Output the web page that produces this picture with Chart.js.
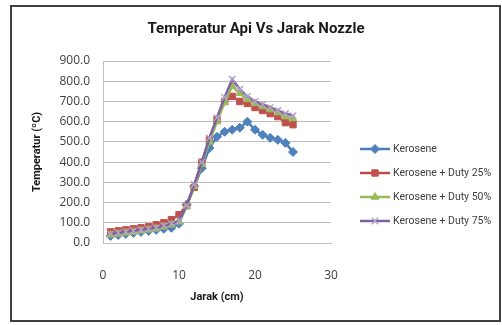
<!DOCTYPE html>
<html>
<head>
<meta charset="utf-8">
<script src="https://cdn.jsdelivr.net/npm/chart.js@4.4.0/dist/chart.umd.min.js"></script>
<style>
  html, body { margin: 0; padding: 0; background: #fff; }
  #wrap { position: relative; width: 502px; height: 325px; }
  #chart { position: absolute; left: 0; top: 0; }
  #frame { position: absolute; left: 10px; top: 5px; width: 487px; height: 313px; border: 2px solid #404040; pointer-events: none; }
</style>
</head>
<body>
<div id="wrap">
  <canvas id="chart" width="502" height="325"></canvas>
  <div id="frame"></div>
</div>
<script>
    // Jarak (cm) on x, temperature (°C) on y
    var jarak = [1, 2, 3, 4, 5, 6, 7, 8, 9, 10, 11, 12, 13, 14, 15, 16, 17, 18, 19, 20, 21, 22, 23, 24, 25];
    var kerosene = [35, 40, 45, 50, 55, 60, 65, 70, 75, 95, 190, 280, 370, 470, 525, 550, 560, 570, 600, 560, 535, 520, 510, 495, 450];
    var duty25 = [55, 60, 65, 70, 75, 80, 90, 100, 115, 140, 185, 275, 400, 510, 610, 700, 725, 700, 690, 670, 655, 640, 625, 595, 585];
    var duty50 = [40, 45, 50, 55, 60, 65, 70, 80, 90, 105, 180, 280, 390, 500, 600, 695, 775, 740, 710, 690, 675, 660, 645, 625, 615];
    var duty75 = [45, 50, 55, 60, 65, 70, 75, 85, 95, 110, 185, 290, 400, 520, 620, 720, 810, 760, 725, 700, 685, 670, 655, 640, 630];
    var seriesNames = ['Kerosene', 'Kerosene + Duty 25%', 'Kerosene + Duty 50%', 'Kerosene + Duty 75%'];
    var yTickLabels = ['0.0', '100.0', '200.0', '300.0', '400.0', '500.0', '600.0', '700.0', '800.0', '900.0'];
    var xTickLabels = ['0', '10', '20', '30'];

    var LABEL_FONT = "Roboto, 'Liberation Sans', sans-serif";
    Chart.defaults.font.family = "'Open Sans', 'Liberation Sans', sans-serif";

    function toPoints(values) {
        return values.map(function (v, i) { return {x: jarak[i], y: v}; });
    }

    function series(idx, values, line, marker, style, radius, order) {
        return {
            label: seriesNames[idx],
            data: toPoints(values),
            borderColor: line,
            backgroundColor: marker,
            pointBackgroundColor: marker,
            pointBorderColor: marker,
            pointBorderWidth: style === 'crossRot' ? 1.5 : 1,
            pointStyle: style,
            pointRadius: radius,
            borderWidth: 2.5,
            tension: 0,
            order: order
        };
    }

    // legend drawn beside the plot, Excel style (line + marker)
    var sideLegend = {
        id: 'sideLegend',
        afterDraw: function (chart) {
            var ctx = chart.ctx;
            var x0 = chart.chartArea.right + 29;
            ctx.save();
            chart.data.datasets.forEach(function (ds, i) {
                var y = 149 + i * 24;
                ctx.strokeStyle = ds.borderColor;
                ctx.lineWidth = ds.borderWidth;
                ctx.beginPath();
                ctx.moveTo(x0, y);
                ctx.lineTo(x0 + 30, y);
                ctx.stroke();
                ctx.fillStyle = ds.pointBackgroundColor;
                ctx.strokeStyle = ds.pointBorderColor;
                ctx.lineWidth = ds.pointBorderWidth;
                if (Chart.helpers && Chart.helpers.drawPoint) {
                    Chart.helpers.drawPoint(ctx, {
                        pointStyle: ds.pointStyle, radius: ds.pointRadius,
                        borderWidth: ds.pointBorderWidth, rotation: 0
                    }, x0 + 15, y);
                }
                ctx.fillStyle = '#404040';
                ctx.font = '10.5px ' + LABEL_FONT;
                ctx.textAlign = 'left';
                ctx.textBaseline = 'middle';
                ctx.fillText(ds.label, x0 + 33, y);
            });
            ctx.restore();
        }
    };

    new Chart(document.getElementById('chart'), {
        type: 'line',
        data: {
            datasets: [
                series(0, kerosene, '#4a7ebb', '#4f81bd', 'rectRot', 4.5, 4),
                series(1, duty25, '#be4b48', '#c0504d', 'rect', 4.5, 3),
                series(2, duty50, '#98b954', '#9bbb59', 'triangle', 4.5, 2),
                series(3, duty75, '#7d60a0', '#b3a2c7', 'crossRot', 4.5, 1)
            ]
        },
        options: {
            responsive: false,
            animation: false,
            devicePixelRatio: 1,
            layout: {padding: {left: 10, right: 0, top: 0, bottom: 0}},
            plugins: {
                legend: {display: false},
                tooltip: {enabled: false},
                title: {
                    display: true,
                    text: 'Temperatur Api Vs Jarak Nozzle',
                    color: '#1a1a1a',
                    font: {family: LABEL_FONT, size: 15, weight: 'bold'},
                    padding: {top: 20.5, bottom: 22.5}
                }
            },
            scales: {
                x: {
                    type: 'linear',
                    min: 0,
                    max: 30,
                    afterFit: function (s) { s.height = 82; },
                    grid: {display: false},
                    border: {display: true, color: '#bfbfbf'},
                    ticks: {
                        stepSize: 10,
                        padding: 17.8,
                        color: '#404040',
                        font: {size: 12},
                        callback: function (v, i) { return xTickLabels[i]; }
                    },
                    title: {
                        display: true,
                        text: 'Jarak (cm)',
                        color: '#1a1a1a',
                        font: {family: LABEL_FONT, size: 11, weight: 'bold'},
                        padding: {top: 0, bottom: 20.9}
                    }
                },
                y: {
                    min: 0,
                    max: 900,
                    afterFit: function (s) { s.width = 93; },
                    grid: {color: '#bfbfbf', drawTicks: false},
                    border: {display: true, color: '#bfbfbf'},
                    ticks: {
                        stepSize: 100,
                        padding: 13,
                        color: '#404040',
                        font: {size: 12},
                        callback: function (v, i) { return yTickLabels[i]; }
                    },
                    title: {
                        display: true,
                        text: 'Temperatur (ºC)',
                        color: '#1a1a1a',
                        font: {family: LABEL_FONT, size: 11, weight: 'bold'},
                        padding: {top: 20.4, bottom: 0}
                    }
                },
                // empty right-hand axis, keeps room for the legend
                side: {
                    position: 'right',
                    afterFit: function (s) { s.width = 171; },
                    grid: {display: false},
                    border: {display: false},
                    ticks: {display: false}
                }
            }
        },
        plugins: [sideLegend]
    });
</script>
</body>
</html>
